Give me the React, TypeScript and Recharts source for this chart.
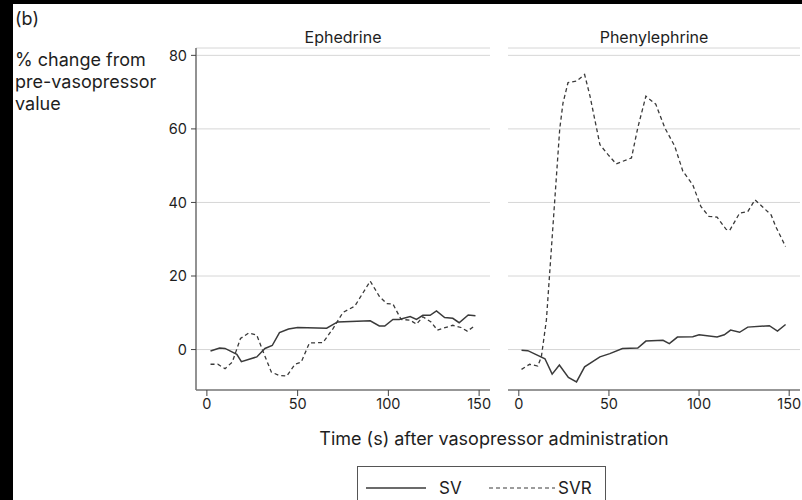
import React from 'react';
import { LineChart, Line, XAxis, YAxis, CartesianGrid } from 'recharts';

const ephSvTime = [2, 7, 10, 16.5, 19, 27.5, 32, 36, 40, 45, 50, 66, 72, 90, 95, 98, 102.5, 106, 112, 115.5, 119, 123, 126.5, 131, 135.5, 139, 144, 148];
const ephSvValue = [-0.4, 0.4, 0.3, -1.3, -3.3, -2, 0.3, 1.1, 4.6, 5.6, 6, 5.8, 7.5, 7.8, 6.4, 6.4, 8.2, 8.2, 9, 8.2, 9.3, 9.3, 10.5, 8.7, 8.5, 7.3, 9.4, 9.2];

const ephSvrTime = [2, 6, 10, 14, 18.5, 23, 27.5, 31, 35.5, 39.5, 44, 48.5, 52, 56.5, 64, 69.5, 75, 81.5, 90, 95, 99, 102.5, 107, 112, 115.5, 119, 123.5, 127, 135.5, 140, 143.5, 147.5];
const ephSvrValue = [-4, -4, -5.2, -3.4, 3, 4.5, 3.9, -0.6, -6.1, -7, -7.2, -4, -3.4, 1.8, 1.9, 5.7, 10.1, 11.8, 18.6, 14.5, 12.5, 12.4, 8.2, 8, 6.9, 8.9, 7.5, 5.3, 6.6, 6, 5, 6.4];

const phenSvTime = [1.5, 5, 10.5, 14.5, 18.5, 22.5, 27.5, 32, 36.5, 45, 50.5, 57.5, 66, 70.5, 80, 83.5, 88, 96.5, 100, 110, 114, 117.5, 122.5, 127, 139, 143.5, 148];
const phenSvValue = [-0.2, -0.3, -1.6, -2.5, -6.7, -4.2, -7.6, -8.8, -4.7, -2, -1.1, 0.3, 0.4, 2.3, 2.5, 1.6, 3.4, 3.5, 4, 3.4, 4, 5.3, 4.7, 6.1, 6.5, 5, 6.8];

const phenSvrTime = [1.5, 6, 10.5, 12.5, 15.3, 19, 22.7, 24.5, 27.3, 32, 36.5, 39.5, 45, 49.5, 54, 62.5, 66, 70.5, 76, 81, 86.5, 91, 96.5, 101, 105.5, 110, 115, 117, 122.5, 127, 131, 135, 140, 142.5, 148];
const phenSvrValue = [-5.4, -4, -4.5, -2, 8, 34, 60, 67, 72.6, 73, 74.8, 68.9, 55.7, 53, 50.5, 52.1, 60.3, 68.9, 66.7, 60.3, 55.3, 48.5, 44.8, 38.9, 36.2, 36, 32.7, 32.4, 37.1, 37.5, 40.7, 38.9, 36.6, 33.5, 28];

const panelTitles = ['Ephedrine', 'Phenylephrine'];
const xTicks = [0, 50, 100, 150];
const yTicks = [0, 20, 40, 60, 80];
const seriesNames = ['SV', 'SVR'];

const toPoints = (ts: number[], vs: number[]) => ts.map((t, i) => ({ t, v: vs[i] }));

const FONT = 'Inter, Roboto, "Liberation Sans", sans-serif';
const TEXT = '#1e1e1e';
const LINE = '#3a3a3a';

function Panel({ sv, svr, showY, width, marginLeft, marginRight }: any) {
  return (
    <LineChart
      width={width}
      height={430}
      margin={{ top: 48, right: marginRight, left: marginLeft, bottom: 10 }}
      style={{ fontFamily: FONT }}
    >
      <CartesianGrid horizontal vertical={false} stroke="#d6d6d6" strokeWidth={1} />
      <XAxis
        type="number"
        dataKey="t"
        domain={[-6, 156]}
        ticks={xTicks}
        allowDataOverflow
        height={30}
        tickSize={6}
        tickMargin={3}
        stroke="#444"
        tick={{ fill: TEXT, fontSize: 14.5 }}
        tickLine={{ stroke: '#444' }}
        axisLine={{ stroke: '#444', strokeWidth: 1.2 }}
      />
      <YAxis
        type="number"
        domain={[-11, 82]}
        ticks={yTicks}
        allowDataOverflow
        hide={!showY}
        width={40}
        tickSize={5}
        tickMargin={4}
        tick={{ fill: TEXT, fontSize: 14.5 }}
        tickLine={{ stroke: '#444' }}
        axisLine={{ stroke: '#777', strokeWidth: 1.6 }}
      />
      <Line data={sv} dataKey="v" type="linear" dot={false} activeDot={false} stroke={LINE} strokeWidth={1.5} isAnimationActive={false} />
      <Line data={svr} dataKey="v" type="linear" dot={false} activeDot={false} stroke={LINE} strokeWidth={1.3} strokeDasharray="4 3" isAnimationActive={false} />
    </LineChart>
  );
}

export default function App() {
  const ephSv = toPoints(ephSvTime, ephSvValue);
  const ephSvr = toPoints(ephSvrTime, ephSvrValue);
  const phenSv = toPoints(phenSvTime, phenSvValue);
  const phenSvr = toPoints(phenSvrTime, phenSvrValue);
  const txt: React.CSSProperties = { position: 'absolute', fontFamily: FONT, color: TEXT, whiteSpace: 'nowrap', lineHeight: 1 };
  return (
    <div style={{ position: 'absolute', left: 0, top: 0, width: 802, height: 500, background: '#fff', overflow: 'hidden' }}>
      <div style={{ position: 'absolute', left: 0, top: 0, width: 13, height: 500, background: '#000' }} />
      <div style={{ position: 'absolute', left: 0, top: 0, width: 802, height: 4, background: '#000' }} />
      <div style={{ ...txt, left: 15, top: 10, fontSize: 18 }}>(b)</div>
      <div style={{ ...txt, left: 15, top: 49, fontSize: 18, lineHeight: '22px' }}>
        % change from<br />pre-vasopressor<br />value
      </div>
      <div style={{ ...txt, left: 196, width: 294, top: 29, fontSize: 16, textAlign: 'center' }}>{panelTitles[0]}</div>
      <div style={{ ...txt, left: 508, width: 292, top: 29, fontSize: 16, textAlign: 'center' }}>{panelTitles[1]}</div>
      <div style={{ position: 'absolute', left: 0, top: 0 }}>
        <Panel sv={ephSv} svr={ephSvr} showY width={500} marginLeft={156} marginRight={10} />
      </div>
      <div style={{ position: 'absolute', left: 500, top: 0 }}>
        <Panel sv={phenSv} svr={phenSvr} showY={false} width={302} marginLeft={8} marginRight={2} />
      </div>
      <div style={{ ...txt, left: 196, width: 596, top: 430, fontSize: 18, textAlign: 'center' }}>
        Time (s) after vasopressor administration
      </div>
      <div style={{ position: 'absolute', left: 357, top: 466, width: 249, height: 40, border: '1px solid #555', boxSizing: 'border-box', background: '#fff' }}>
        <svg width={249} height={40} style={{ position: 'absolute', left: 0, top: 0 }}>
          <line x1={8} x2={68} y1={21} y2={21} stroke={LINE} strokeWidth={1.3} />
          <line x1={131} x2={197} y1={21} y2={21} stroke={LINE} strokeWidth={1.2} strokeDasharray="4 3" />
          <text x={81} y={27} fontFamily={FONT} fontSize={17} fill={TEXT}>{seriesNames[0]}</text>
          <text x={200} y={27} fontFamily={FONT} fontSize={17} fill={TEXT}>{seriesNames[1]}</text>
        </svg>
      </div>
    </div>
  );
}
